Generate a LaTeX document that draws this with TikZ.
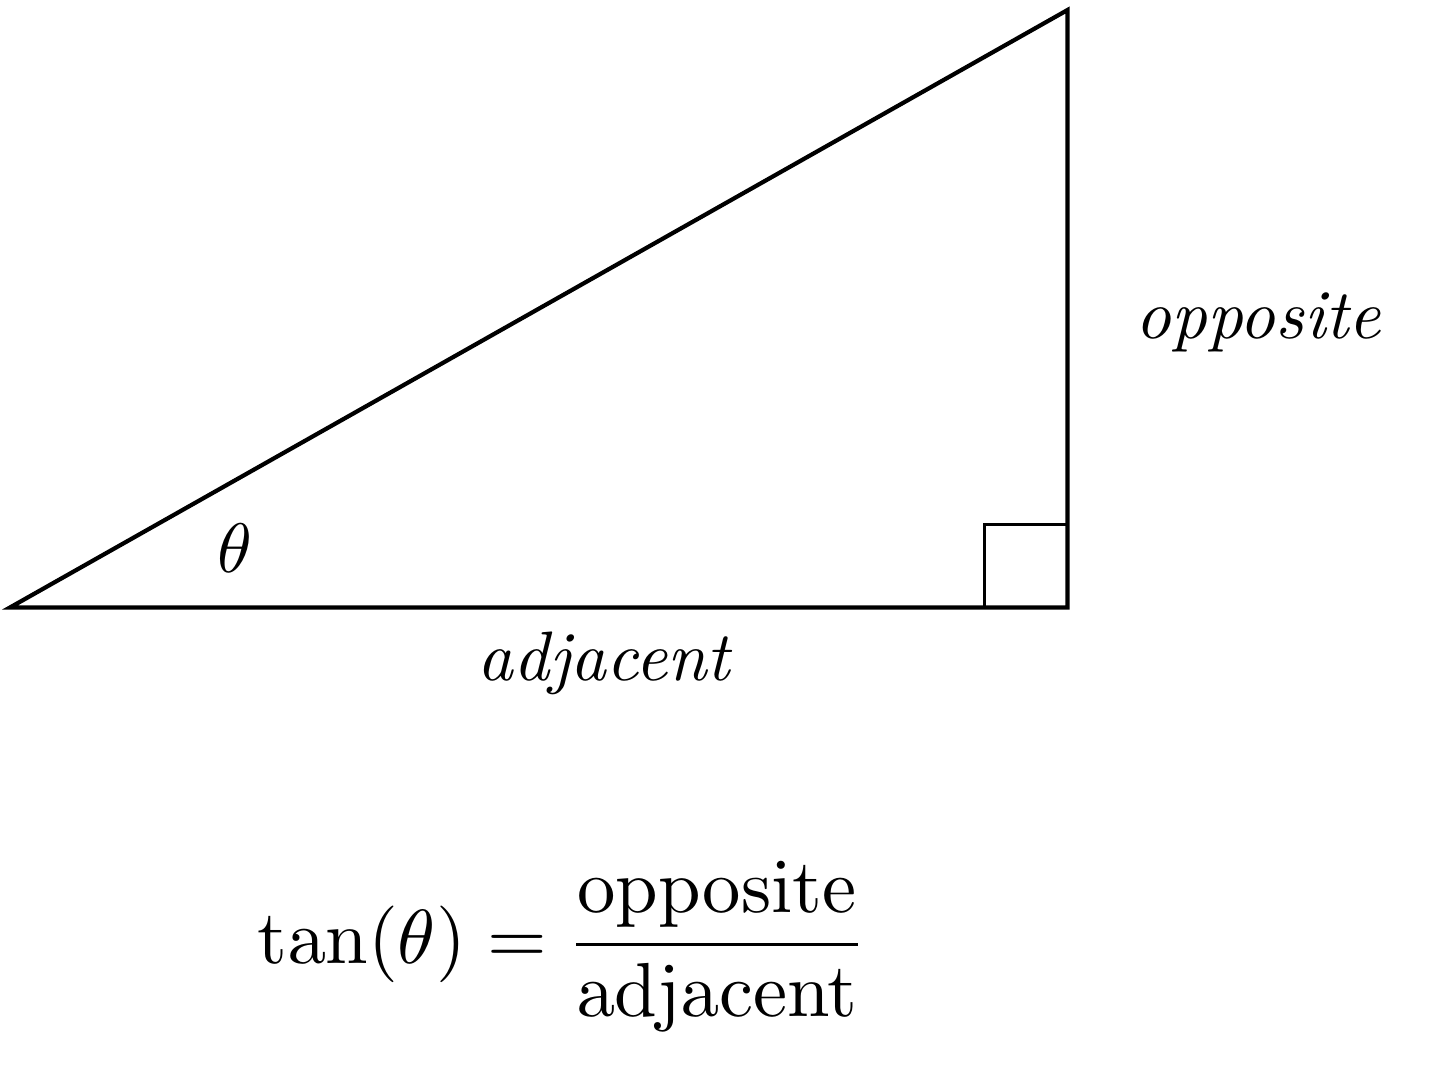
\documentclass[tikz,border=0pt]{standalone}
\usetikzlibrary{positioning}

\begin{document}
\begin{tikzpicture}[semithick]
	\useasboundingbox (-0.05,-2.37) rectangle (7.18,3.05);

	\coordinate (a) at (0,0);
	\coordinate (b) at (5.31,0);
	\coordinate (c) at (5.31,3.0);

	\draw (a) -- (b) -- (c) -- cycle;
	\draw[thin] ([xshift=-0.417cm]b) rectangle ([yshift=0.417cm]b);

	\node (theta)    at (1.13,0.30)  {$\theta$};
	\node (opposite) at (6.27,1.43)  {\textit{opposite}};
	\node (adjacent) at (2.99,-0.28) {\textit{adjacent}};
	\node (tan)      at (2.77,-1.70) {\fontsize{11.3}{13}\selectfont$\displaystyle\tan(\theta) = \frac{\mathrm{opposite}}{\mathrm{adjacent}}$};
\end{tikzpicture}
\end{document}
